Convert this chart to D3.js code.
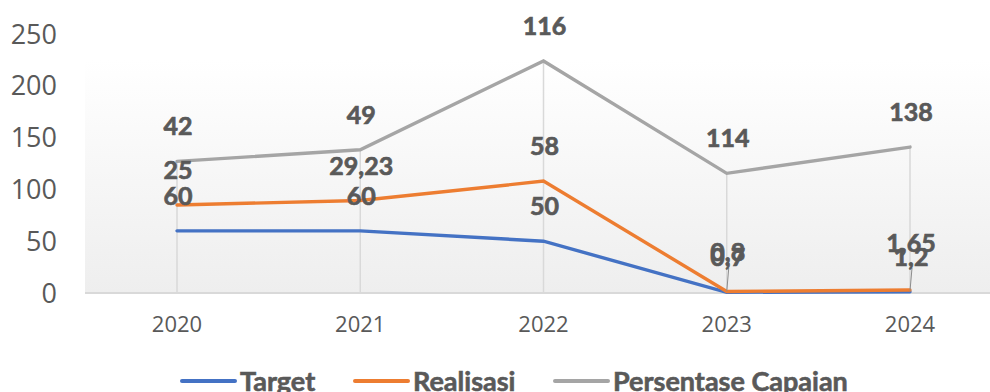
<!DOCTYPE html>
<html>
<head>
<meta charset="utf-8">
<script src="https://cdn.jsdelivr.net/npm/d3@7"></script>
<style>
  html, body { margin: 0; padding: 0; background: #ffffff; }
  svg { display: block; }
</style>
</head>
<body>
<svg id="chart" width="990" height="392"></svg>
<script>
// Years on the category axis
const years = ["2020", "2021", "2022", "2023", "2024"];
// Series values (stacked line chart: each series sits on top of the previous)
const target = [60, 60, 50, 0.7, 1.2];
const realisasi = [25, 29.23, 58, 0.8, 1.65];
const persentase = [42, 49, 116, 114, 138];
// Value-axis ticks
const yTicks = [0, 50, 100, 150, 200, 250];
const seriesNames = ["Target", "Realisasi", "Persentase Capaian"];
const seriesColors = ["#4472C4", "#ED7D31", "#A5A5A5"];

const svg = d3.select("#chart");
const W = 990, H = 392;

const x = d3.scalePoint().domain(years).range([177, 910]);
const y = d3.scaleLinear().domain([0, 250]).range([293, 34]);

// Build stacked rows
const rows = years.map((yr, i) => ({ year: yr, t: target[i], r: realisasi[i], p: persentase[i] }));
const stack = d3.stack().keys(["t", "r", "p"]);
const stacked = stack(rows);
const rawSeries = [target, realisasi, persentase];

// Plot-area background with a soft vertical gradient
const defs = svg.append("defs");
const grad = defs.append("linearGradient").attr("id", "plotBg")
  .attr("x1", 0).attr("y1", 0).attr("x2", 0).attr("y2", 1);
grad.append("stop").attr("offset", "0%").attr("stop-color", "#ffffff");
grad.append("stop").attr("offset", "100%").attr("stop-color", "#eeeeee");
svg.append("rect")
  .attr("x", 85).attr("y", 60)
  .attr("width", W - 85).attr("height", y(0) - 60)
  .attr("fill", "url(#plotBg)");

// Drop lines from the top series down to the axis
svg.append("g").selectAll("line")
  .data(years)
  .join("line")
  .attr("x1", d => x(d)).attr("x2", d => x(d))
  .attr("y1", (d, i) => y(stacked[2][i][1]))
  .attr("y2", y(0))
  .attr("stroke", "#d9d9d9")
  .attr("stroke-width", 1.5);

// Category axis line
svg.append("line")
  .attr("x1", 85).attr("x2", W)
  .attr("y1", y(0)).attr("y2", y(0))
  .attr("stroke", "#d9d9d9").attr("stroke-width", 2);

// Value-axis tick labels
svg.append("g").selectAll("text")
  .data(yTicks)
  .join("text")
  .attr("x", 57)
  .attr("y", d => y(d) + 9.5)
  .attr("text-anchor", "end")
  .attr("font-family", "'Open Sans', sans-serif")
  .attr("font-size", 27)
  .attr("fill", "#595959")
  .text(d => d);

// Category labels
svg.append("g").selectAll("text")
  .data(years)
  .join("text")
  .attr("x", d => x(d))
  .attr("y", 332)
  .attr("text-anchor", "middle")
  .attr("font-family", "'Open Sans', sans-serif")
  .attr("font-size", 22)
  .attr("fill", "#595959")
  .text(d => d);

// Series lines
const line = d3.line()
  .x((d, i) => x(years[i]))
  .y(d => y(d[1]));

svg.append("g").selectAll("path")
  .data(stacked)
  .join("path")
  .attr("d", d => line(d))
  .attr("fill", "none")
  .attr("stroke", (d, i) => seriesColors[i])
  .attr("stroke-width", 3.4)
  .attr("stroke-linejoin", "miter")
  .attr("stroke-linecap", "round");

// Leader lines for the small target labels near the axis
svg.append("g").selectAll("line")
  .data([3, 4])
  .join("line")
  .attr("x1", i => x(years[i]) + 2).attr("x2", i => x(years[i]))
  .attr("y1", 268)
  .attr("y2", i => y(stacked[0][i][1]) - 1)
  .attr("stroke", "#8c8c8c")
  .attr("stroke-width", 1);

// Data labels: value of each series, placed above its stacked point
const fmt = v => String(v).replace(".", ",");
const nudge = { "1-4": -12, "1-3": -4 };
const labelData = [];
stacked.forEach((s, si) => {
  s.forEach((pt, i) => {
    labelData.push({ si, i, v: rawSeries[si][i], py: y(pt[1]) });
  });
});
svg.append("g").selectAll("text")
  .data(labelData)
  .join("text")
  .attr("x", d => x(years[d.i]) + 1)
  .attr("y", d => d.py - 26 + (nudge[d.si + "-" + d.i] || 0))
  .attr("text-anchor", "middle")
  .attr("font-family", "Lato, sans-serif")
  .attr("font-weight", "bold")
  .attr("font-size", 25)
  .attr("fill", "#595959")
  .attr("stroke", "#595959")
  .attr("stroke-width", 0.7)
  .text(d => fmt(d.v));

// Legend
const legendItems = [
  { name: seriesNames[0], color: seriesColors[0], x0: 182 },
  { name: seriesNames[1], color: seriesColors[1], x0: 355 },
  { name: seriesNames[2], color: seriesColors[2], x0: 555 }
];
const lg = svg.append("g");
legendItems.forEach(it => {
  lg.append("line")
    .attr("x1", it.x0).attr("x2", it.x0 + 53)
    .attr("y1", 381).attr("y2", 381)
    .attr("stroke", it.color).attr("stroke-width", 4)
    .attr("stroke-linecap", "round");
  lg.append("text")
    .attr("x", it.x0 + 58)
    .attr("y", 391)
    .attr("font-family", "Lato, sans-serif")
    .attr("font-weight", "bold")
    .attr("font-size", 27)
    .attr("fill", "#595959")
    .attr("stroke", "#595959")
    .attr("stroke-width", 0.6)
    .text(it.name);
});
</script>
</body>
</html>
